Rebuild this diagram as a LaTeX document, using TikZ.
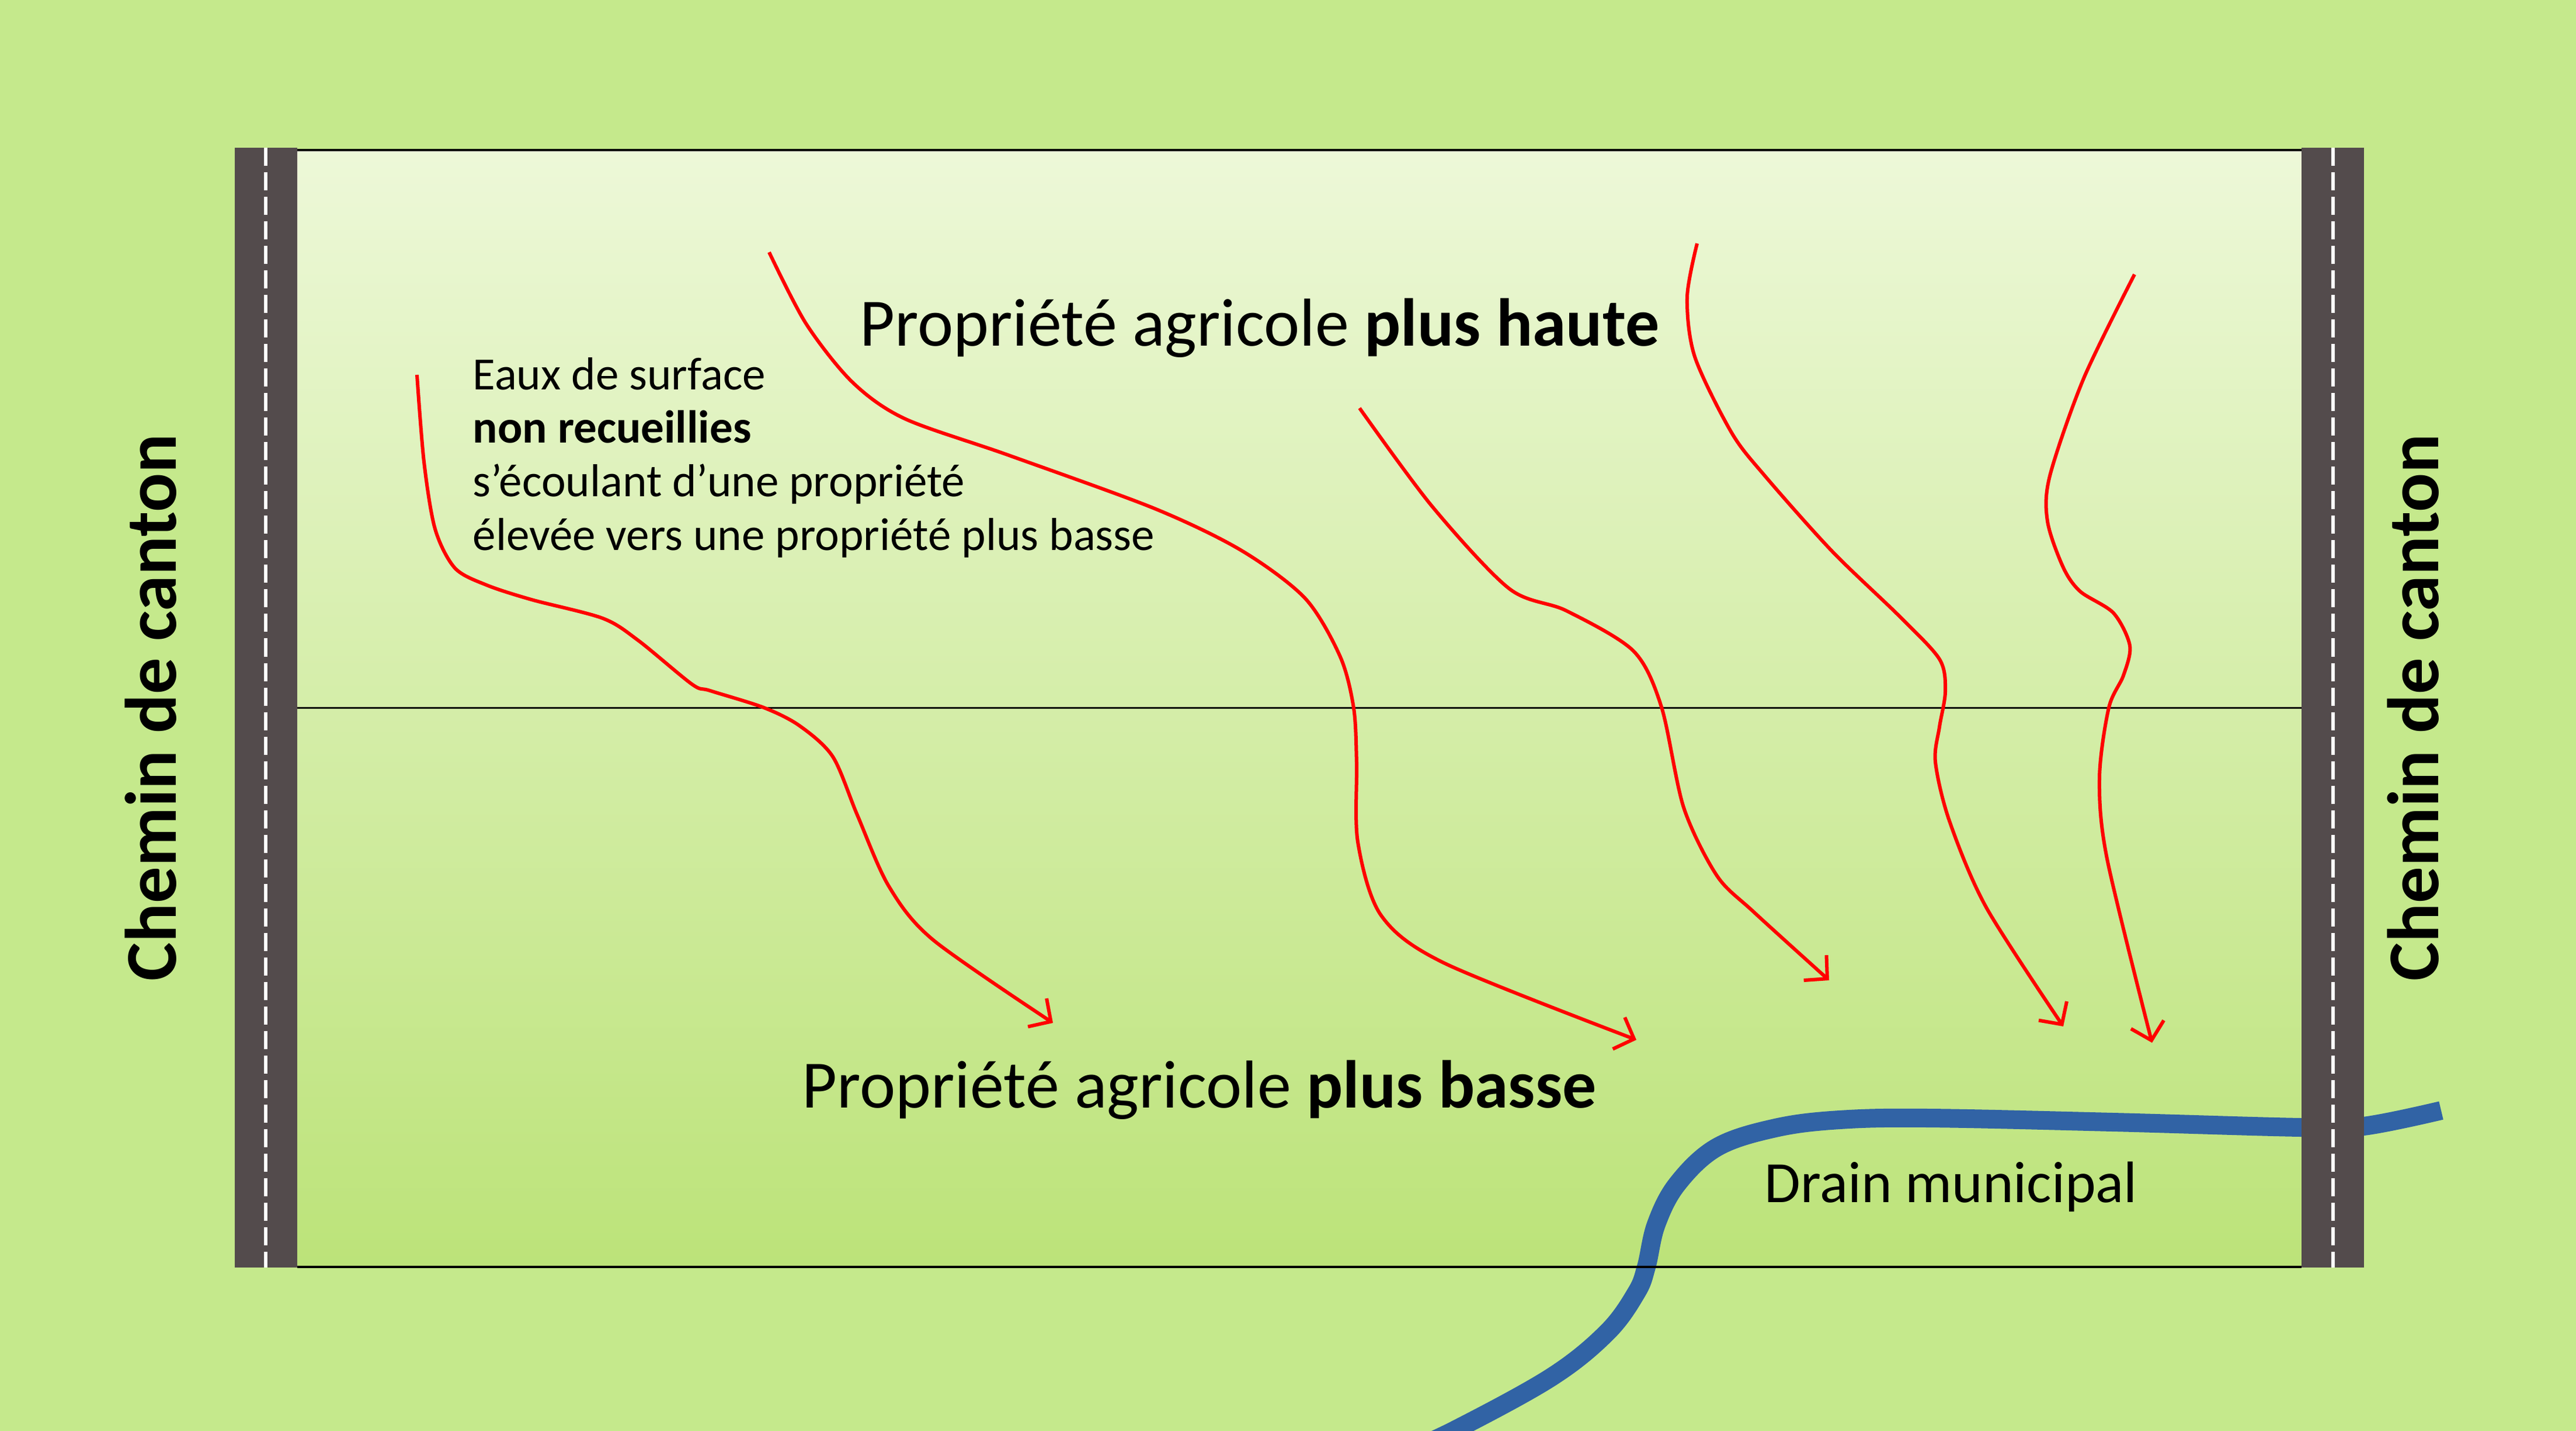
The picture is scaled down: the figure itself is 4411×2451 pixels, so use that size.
\documentclass[tikz,border=0pt]{standalone}
\usepackage{fontspec}
\setmainfont{Carlito}
\usetikzlibrary{arrows.meta}
\definecolor{bg}{RGB}{197,233,140}
\definecolor{fieldtop}{RGB}{237,248,216}
\definecolor{fieldbot}{RGB}{188,227,121}
\definecolor{road}{RGB}{83,75,76}
\definecolor{drainblue}{RGB}{49,99,165}
\definecolor{flowred}{RGB}{255,0,0}
\begin{document}
\begin{tikzpicture}[x=0.01cm,y=-0.01cm,
  flow/.style={draw=flowred, line width=0.06cm, line join=round,
    -{Straight Barb[length=0.28cm,width=0.58cm]}},
  roadbox/.style={fill=road, draw=none},
  roadmark/.style={draw=white, line width=0.065cm, dash pattern=on 0.31cm off 0.11cm},
  edge/.style={draw=black, line width=0.04cm},
  bigtext/.style={font=\fontsize{33}{39}\selectfont, anchor=base west, inner sep=0},
  smalltext/.style={font=\fontsize{22.5}{27}\selectfont, anchor=base west, inner sep=0},
  roadtext/.style={font=\bfseries\fontsize{35.5}{42}\selectfont, rotate=90, anchor=base, inner sep=0}]
\useasboundingbox (0,0) rectangle (4411,2451);
\fill[bg] (0,0) rectangle (4411,2451);
% field
\shade[top color=fieldtop, bottom color=fieldbot] (509,257) rectangle (3941,2170);
% municipal drain
\draw[drainblue, line width=0.32cm] plot[smooth, tension=0.6] coordinates {
  (2400,2490) (2490,2450) (2656,2359) (2752,2282) (2802,2214) (2819,2170)
  (2836,2097) (2872,2028) (2940,1965) (3040,1932) (3150,1918) (3302,1915)
  (3618,1922) (3940,1931) (4047,1929) (4180,1902)};
% field edges
\draw[edge] (509,257) -- (3941,257);
\draw[edge] (509,2170) -- (3941,2170);
\draw[black, line width=0.03cm] (509,1212) -- (3941,1212);
% roads
\fill[roadbox] (402,253) rectangle (509,2171);
\fill[roadbox] (3941,253) rectangle (4048,2171);
\draw[roadmark] (455,253) -- (455,2171);
\draw[roadmark] (3995,253) -- (3995,2171);
% texts
\node[roadtext] (cl) at (301,1212) {Chemin de canton};
\node[roadtext] (cr) at (4175,1212) {Chemin de canton};
\node[bigtext] (haute) at (1472,592) {Propriété agricole \textbf{plus haute}};
\node[bigtext] (basse) at (1373,1897) {Propriété agricole \textbf{plus basse}};
\node[smalltext] (l1) at (809,667) {Eaux de surface};
\node[smalltext] (l2) at (809,758) {\textbf{non recueillies}};
\node[smalltext] (l3) at (809,850) {s’écoulant d’une propriété};
\node[smalltext] (l4) at (809,942) {élevée vers une propriété plus basse};
\node[font=\fontsize{28.5}{34}\selectfont, anchor=base west, inner sep=0] (drain) at (3021,2059) {Drain municipal};
% surface water flows
\draw[flow] plot[smooth, tension=0.5] coordinates {
  (714,642) (726,791) (745,906) (779,973) (833,1002) (910,1027) (1032,1059)
  (1093,1097) (1185,1172) (1216,1183) (1308,1212) (1369,1243) (1426,1296)
  (1468,1396) (1522,1518) (1598,1610) (1803,1752)};
\draw[flow] plot[smooth, tension=0.5] coordinates {
  (1317,432) (1380,554) (1459,654) (1549,717) (1728,780) (1977,871) (2126,943)
  (2235,1025) (2295,1125) (2318,1213) (2323,1306) (2325,1442) (2365,1568)
  (2474,1650) (2802,1781)};
\draw[flow] plot[smooth, tension=0.5] coordinates {
  (2328,699) (2452,867) (2584,1008) (2682,1046) (2797,1115) (2845,1211)
  (2883,1383) (2940,1500) (3003,1562) (3132,1679)};
\draw[flow] plot[smooth, tension=0.5] coordinates {
  (2906,417) (2889,509) (2902,611) (2965,741) (3022,815) (3137,944) (3252,1055)
  (3321,1129) (3331,1184) (3321,1245) (3314,1305) (3338,1406) (3401,1554)
  (3533,1758)};
\draw[flow] plot[smooth, tension=0.5] coordinates {
  (3655,470) (3568,648) (3510,815) (3506,893) (3533,972) (3562,1013) (3619,1050)
  (3647,1106) (3636,1157) (3611,1212) (3595,1332) (3608,1471) (3685,1786)};
\end{tikzpicture}
\end{document}
